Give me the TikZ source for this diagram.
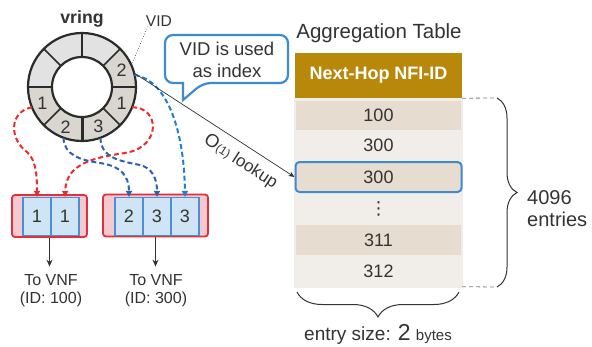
\documentclass[tikz,border=0pt]{standalone}
\usepackage{fontspec}
\setmainfont{Liberation Sans}
\newfontfamily\dejavufam{DejaVu Sans}
\usetikzlibrary{arrows.meta,decorations.pathreplacing,calc}
\definecolor{txt}{HTML}{333333}
\definecolor{gold}{HTML}{B8880A}
\definecolor{rowd}{HTML}{E6DCD0}
\definecolor{rowl}{HTML}{F1EDE9}
\definecolor{ringfill}{HTML}{E2E2E2}
\definecolor{ringlab}{HTML}{D9D6D0}
\definecolor{ringline}{HTML}{2B2B2B}
\definecolor{callblue}{HTML}{3D8BD1}
\definecolor{bred}{HTML}{E0303C}
\definecolor{bpink}{HTML}{F5C9CE}
\definecolor{cellfill}{HTML}{CFE4F4}
\definecolor{cellline}{HTML}{4A90D9}
\definecolor{dred}{HTML}{EE2A2A}
\definecolor{dblue}{HTML}{2E62B0}
\definecolor{lblue}{HTML}{1F7FD0}
\begin{document}
\begin{tikzpicture}[x=1pt,y=-1pt,
  txtstyle/.style={text=txt,inner sep=0pt},
  seglab/.style={txtstyle,font=\fontsize{18}{18}\selectfont},
  bucket/.style={draw=bred,fill=bpink,line width=1.8pt,rounded corners=3pt,minimum height=42pt,inner sep=0pt},
  cell/.style={draw=cellline,fill=cellfill,line width=1.2pt,minimum width=28pt,minimum height=38pt,inner sep=0pt,text=txt,font=\fontsize{18}{18}\selectfont},
  rowbox/.style={minimum width=165pt,inner sep=0pt,text=txt,font=\fontsize{18}{18}\selectfont},
  reddash/.style={dred,line width=2pt,dash pattern=on 5pt off 3pt,-{Triangle[length=6pt,width=6pt]}},
  darkdash/.style={dblue,line width=2pt,dash pattern=on 5pt off 3pt,-{Triangle[length=6pt,width=6pt]}},
  lightdash/.style={lblue,line width=2pt,dash pattern=on 5pt off 3pt,-{Triangle[length=6pt,width=6pt]}},
  downarrow/.style={txt,line width=1.2pt,-{Stealth[length=7pt,width=6pt]}},
  gdash/.style={gray,line width=0.8pt,dash pattern=on 4pt off 3pt},
  bracestyle/.style={txt,line width=1pt,decorate}
]
\useasboundingbox (0,0) rectangle (592,346);
\fill[white] (0,0) rectangle (592,346);

% ---------------- ring ----------------
\begin{scope}[shift={(82,87)},yscale=-1]
  \foreach \a/\c in {0/ringlab,45/ringfill,90/ringfill,135/ringfill,180/ringlab,225/ringlab,270/ringlab,315/ringlab}{
    \fill[\c] (\a:54) arc[start angle=\a,delta angle=45,radius=54] -- ({\a+45}:30) arc[start angle={\a+45},delta angle=-45,radius=30] -- cycle;
  }
  \foreach \a in {0,45,...,315}{
    \draw[ringline,line width=1.6pt] (\a:30) -- (\a:54);
  }
  \draw[ringline,line width=3pt] (270:30) -- (270:54);
  \draw[ringline,line width=2.2pt,fill=white] (0,0) circle[radius=30];
  \draw[ringline,line width=2.2pt] (0,0) circle[radius=54];
  \node[seglab] (s2) at (22.5:43) {2};
  \node[seglab] (s1l) at (202.5:43) {1};
  \node[seglab] (s2b) at (247.5:43) {2};
  \node[seglab] (s3b) at (292.5:43) {3};
  \node[seglab] (s1r) at (337.5:43) {1};
  \coordinate (p1l) at (202:54);
  \coordinate (p1r) at (338:54);
  \coordinate (p2b) at (250:54);
  \coordinate (p3b) at (290:54);
  \coordinate (p2r) at (13:54);
  \coordinate (p2o) at (15:54);
  \coordinate (p2v) at (24:54);
\end{scope}

\node[txtstyle,font=\bfseries\fontsize{17.7}{18}\selectfont] (vring) at (82,19) {vring};
\node[txtstyle,font=\fontsize{15.6}{16}\selectfont] (vid) at (159,21) {VID};
\draw[txt,line width=0.6pt,dotted] (vid.south west) ++(2,0) coordinate (vidfoot) -- (p2v);

% ---------------- callout ----------------
\draw[callblue,line width=2.2pt,fill=white] (226,35) [rounded corners=8pt] -- (288,35) -- (288,83) -- (203,83) [sharp corners] -- (183,100) -- (183,83) [rounded corners=8pt] -- (165,83) -- (165,35) -- cycle;
\node[txtstyle,align=center,font=\fontsize{18.5}{22}\selectfont] (callout) at (227,60) {VID is used\\as index};

% ---------------- buckets ----------------
\node[bucket,minimum width=75pt] (b1) at (49.5,216) {};
\node[bucket,minimum width=105pt] (b2) at (155.5,215.5) {};
\node[cell] (c11) at (37,216.5) {1};
\node[cell] (c12) at (65,216.5) {1};
\node[cell] (c21) at (129,216.5) {2};
\node[cell] (c22) at (157,216.5) {3};
\node[cell] (c23) at (185,216.5) {3};

\node[txtstyle,align=center,font=\fontsize{16}{18}\selectfont] (t1) at (51,291) {To VNF\\(ID: 100)};
\node[txtstyle,align=center,font=\fontsize{16}{18}\selectfont] (t2) at (156,291) {To VNF\\(ID: 300)};
\draw[downarrow,shorten >=8pt] (b1.south) -- (b1.south |- t1.north);
\draw[downarrow,shorten >=8pt] (b2.south) -- (b2.south |- t2.north);

% ---------------- dashed connectors ----------------
\draw[reddash] (p1l) .. controls (8,112) and (10,140) .. (27,152) .. controls (36,160) and (37,175) .. (c11.north);
\draw[reddash] (p1r) .. controls (160,107) and (162,147) .. (125,153) .. controls (90,158) and (66,165) .. (c12.north);
\draw[darkdash] (p2b) .. controls (64,155) and (80,160) .. (100,163) .. controls (120,166) and (129,175) .. (c21.north);
\draw[darkdash] (p3b) .. controls (101,158) and (120,161) .. (140,165) .. controls (152,168) and (157,178) .. (c22.north);
\draw[lightdash] (p2r) .. controls (165,80) and (184,125) .. (c23.north);

% ---------------- table ----------------
\node[txtstyle,font=\fontsize{20.5}{21}\selectfont] (title) at (379,33) {Aggregation Table};
\fill[rowl] (294,98) rectangle (463,288);
\node[fill=gold,minimum width=167pt,minimum height=45pt,inner sep=0pt,text=white,font=\bfseries\fontsize{18}{18}\selectfont] (hd) at (378.5,75.5) {Next-Hop NFI-ID};
\node[rowbox,fill=rowd,minimum height=29pt] (r1) at (378.5,115.5) {100};
\node[rowbox,minimum height=30pt] (r2) at (378.5,145.5) {300};
\node[rowbox,fill=rowd,minimum height=30pt,minimum width=166pt,draw=callblue,line width=2pt,rounded corners=4pt] (r3) at (378.5,177) {300};
\node[rowbox,minimum height=29pt,font=\dejavufam\fontsize{18}{18}\selectfont] (r4) at (378.5,208.5) {⋮};
\node[rowbox,fill=rowd,minimum height=30pt] (r5) at (378.5,240) {311};
\node[rowbox,minimum height=30pt] (r6) at (378.5,271.5) {312};

\draw[txt,line width=0.7pt,-{Stealth[length=6pt,width=5pt]}] (p2o) -- (r3.west)
  node[pos=0.72,sloped,below=8pt,inner sep=0pt,text=txt,font=\fontsize{17}{17}\selectfont] (lk) {{\fontsize{18.5}{18}\selectfont O}{\fontsize{12}{12}\selectfont(1)} lookup};

% braces
\coordinate (brt) at (497,98);
\coordinate (brb) at (497,287);
\draw[gdash] (hd.south east) -- (brt);
\draw[gdash] (r6.south east) ++(1,0) -- (brb);
\draw[bracestyle,decoration={brace,amplitude=20pt}] (brt) -- (brb);
\node[txtstyle,anchor=west,align=left,font=\fontsize{20}{22}\selectfont] (cnt) at (527,209) {4096\\entries};

\coordinate (bbl) at (297,292);
\coordinate (bbr) at (459,292);
\draw[bracestyle,decoration={brace,amplitude=25pt}] (bbr) -- (bbl);
\node[txtstyle,font=\fontsize{19}{19}\selectfont] (esz) at (378,334) {entry size: {\fontsize{23}{23}\selectfont 2} {\fontsize{15}{15}\selectfont bytes}};
\end{tikzpicture}
\end{document}
